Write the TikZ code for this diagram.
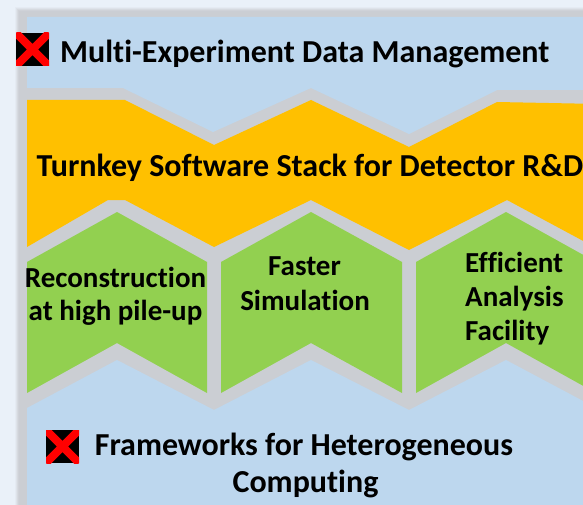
\documentclass[tikz,border=0pt]{standalone}
\usepackage{fontspec}
\setmainfont{Carlito}[Ligatures={NoCommon}]
\usetikzlibrary{calc}

\definecolor{pagebg}{RGB}{234,241,249}
\definecolor{framegray}{RGB}{203,206,211}
\definecolor{skyblue}{RGB}{189,215,238}
\definecolor{amber}{RGB}{255,192,0}
\definecolor{leaf}{RGB}{146,208,80}

\tikzset{
  banner/.style={font=\bfseries\fontsize{32}{38}\selectfont, text=black, inner sep=0pt},
  pillar/.style={font=\bfseries\fontsize{29}{34}\selectfont, text=black, inner sep=0pt},
  crossicon/.style={fill=black, minimum size=33pt, inner sep=0pt, draw=none,
    path picture={
      \draw[red, line width=8pt]
        (path picture bounding box.south west) -- (path picture bounding box.north east)
        (path picture bounding box.north west) -- (path picture bounding box.south east);
    }},
}

\begin{document}
\begin{tikzpicture}[x=1pt, y=-1pt]
\useasboundingbox (0,0) rectangle (583,505);
\clip (0,0) rectangle (583,505);

% page and the soft grey frame behind the stack
\fill[pagebg] (0,0) rectangle (583,505);
\foreach \d/\o in {5/0.15, 4/0.25, 3/0.4, 2/0.6, 1/0.8}
  \fill[framegray, opacity=\o] ({20-\d},{12-\d}) rectangle (600,520);
\fill[framegray] (20,12) rectangle (600,520);

% top layer
\fill[skyblue] (27,17) -- (600,17) -- (600,90) -- (497,90) -- (409,134) -- (311,88)
  -- (213,132) -- (123,88) -- (27,88) -- cycle;

% middle layer
\fill[amber] (27,100) -- (125,100) -- (214,145) -- (311,100) -- (409,147) -- (497,102)
  -- (600,104) -- (600,250) -- (507,200) -- (409,250) -- (311,200) -- (214,247)
  -- (125,200) -- (108,200) -- (27,247) -- cycle;

% three pillars
\fill[leaf] (27,262) -- (117,212) -- (207,262) -- (207,393) -- (117,343) -- (27,393) -- cycle;
\fill[leaf] (221,262) -- (311,212) -- (402,262) -- (402,393) -- (311,343) -- (221,393) -- cycle;
\fill[leaf] (416,262) -- (506,212) -- (596,262) -- (596,393) -- (506,343) -- (416,393) -- cycle;

% bottom layer
\fill[skyblue] (27,408) -- (117,360) -- (214,410) -- (311,360) -- (409,410) -- (506,360)
  -- (600,410) -- (600,520) -- (27,520) -- cycle;

% labels
\node[crossicon] (xtop) at (32.5,49.5) {};
\node[banner, anchor=base west] (mgmt) at (60,63) {Multi-Experiment Data Management};

\node[banner, anchor=base] (stack) at (310,177) {Turnkey Software Stack for Detector R\&D};

\node[pillar, anchor=base] (reco1) at (115.5,287) {Reconstruction};
\node[pillar, anchor=base] (reco2) at (115.5,320) {at high pile-up};

\node[pillar, anchor=base] (sim1) at (304.5,275) {Faster};
\node[pillar, anchor=base] (sim2) at (305,310) {Simulation};

\node[pillar, anchor=base west] (ana1) at (465,272) {Efficient};
\node[pillar, anchor=base west] (ana2) at (465,306) {Analysis};
\node[pillar, anchor=base west] (ana3) at (465,340) {Facility};

\node[crossicon] (xbot) at (62.5,446.5) {};
\node[banner, anchor=base] (fw1) at (304,455) {Frameworks for Heterogeneous};
\node[banner, anchor=base] (fw2) at (305.5,492) {Computing};
\end{tikzpicture}
\end{document}
